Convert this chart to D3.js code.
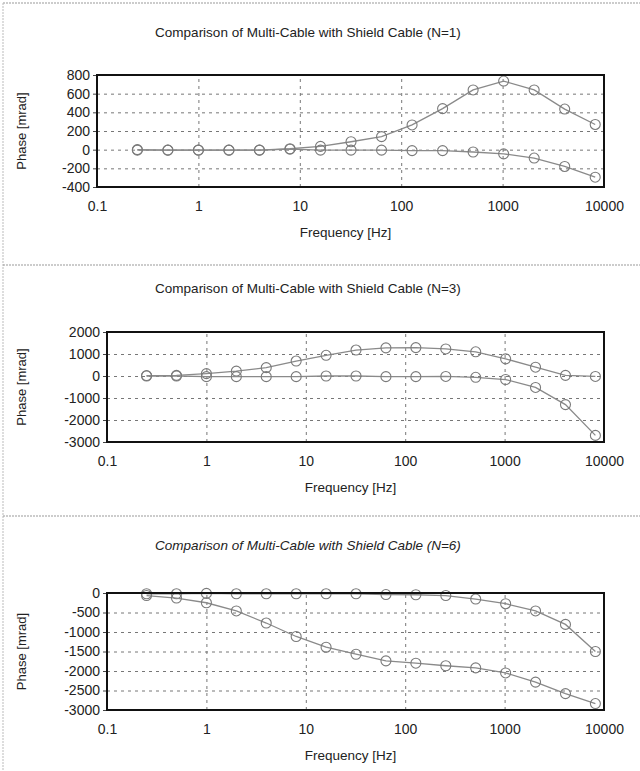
<!DOCTYPE html>
<html>
<head>
<meta charset="utf-8">
<script src="https://cdn.jsdelivr.net/npm/d3@7"></script>
<style>
body { margin: 0; background: #fff; }
text { font-family: "Liberation Sans", Arial, sans-serif; fill: #222; }
</style>
</head>
<body>
<svg id="chart" width="640" height="771"></svg>
<script>
// frequencies [Hz] of the measured points
var freqs = [0.25, 0.5, 1, 2, 4, 8, 16, 32, 64, 128, 256, 512, 1024, 2048, 4096, 8192];
var xTicks = [0.1, 1, 10, 100, 1000, 10000];

// phase [mrad], N=1
var n1Multi  = [0, -5, -5, -5, -5, 10, 35, 85, 140, 265, 440, 640, 735, 640, 435, 270];
var n1Shield = [-5, -5, -5, -5, -5, 5, -5, -5, -5, -10, -10, -25, -45, -90, -180, -295];
// phase [mrad], N=3
var n3Multi  = [20, 30, 110, 220, 380, 680, 940, 1180, 1280, 1290, 1230, 1100, 780, 400, 30, -20];
var n3Shield = [0, 0, -30, -30, -30, -30, 0, 0, -30, -30, -20, -60, -160, -520, -1300, -2700];
// phase [mrad], N=6
var n6Multi  = [-20, -20, -10, -20, -20, -20, -20, -20, -40, -45, -65, -155, -275, -460, -805, -1500];
var n6Shield = [-65, -130, -250, -460, -770, -1115, -1390, -1570, -1740, -1800, -1865, -1920, -2050, -2285, -2580, -2835];

var titles = [
    "Comparison of Multi-Cable with Shield Cable (N=1)",
    "Comparison of Multi-Cable with Shield Cable (N=3)",
    "Comparison of Multi-Cable with Shield Cable (N=6)"
];
var yDomains = [[-400, 800], [-3000, 2000], [-3000, 0]];
var yTicks = [
    [-400, -200, 0, 200, 400, 600, 800],
    [-3000, -2000, -1000, 0, 1000, 2000],
    [-3000, -2500, -2000, -1500, -1000, -500, 0]
];

var panels = [
    {left: 97, right: 604, top: 75, bottom: 187, titleY: 37, italic: false, series: [n1Multi, n1Shield]},
    {left: 107, right: 604, top: 332, bottom: 442, titleY: 293, italic: false, series: [n3Multi, n3Shield]},
    {left: 107, right: 604, top: 593, bottom: 710, titleY: 550, italic: true, series: [n6Multi, n6Shield]}
];

var svg = d3.select("#chart");

// page frame and separators
svg.append("line").attr("x1", 3).attr("x2", 640).attr("y1", 3).attr("y2", 3)
    .attr("stroke", "#999").attr("stroke-dasharray", "2,1");
svg.append("line").attr("x1", 3).attr("x2", 3).attr("y1", 3).attr("y2", 771)
    .attr("stroke", "#bbb").attr("stroke-dasharray", "2,1");
[265, 516].forEach(function(y) {
    svg.append("line").attr("x1", 3).attr("x2", 640).attr("y1", y).attr("y2", y)
        .attr("stroke", "#999").attr("stroke-dasharray", "2,1");
});

var xFormat = function(d) { return d < 1 ? "0.1" : String(d); };
var yFormat = function(d) { return String(d); };

panels.forEach(function(p, i) {
    var width = p.right - p.left,
        height = p.bottom - p.top;

    var x = d3.scaleLog().domain([0.1, 10000]).range([0, width]);
    var y = d3.scaleLinear().domain(yDomains[i]).range([height, 0]);

    var g = svg.append("g").attr("transform", "translate(" + p.left + "," + p.top + ")");

    // title
    svg.append("text")
        .attr("x", 308)
        .attr("y", p.titleY)
        .attr("text-anchor", "middle")
        .style("font-size", "13.5px")
        .style("font-style", p.italic ? "italic" : "normal")
        .text(titles[i]);

    // grid
    g.append("g")
        .call(d3.axisLeft(y).tickValues(yTicks[i]).tickSize(-width).tickFormat(""))
        .call(function(a) { a.select(".domain").remove(); })
        .selectAll("line").attr("stroke", "#777").attr("stroke-dasharray", "3,4");

    g.append("g")
        .attr("transform", "translate(0," + height + ")")
        .call(d3.axisBottom(x).tickValues(xTicks).tickSize(-height).tickFormat(""))
        .call(function(a) { a.select(".domain").remove(); })
        .selectAll("line").attr("stroke", "#777").attr("stroke-dasharray", "3,4");

    // y axis
    var yAxis = g.append("g")
        .call(d3.axisLeft(y).tickValues(yTicks[i]).tickSize(4).tickPadding(3).tickFormat(yFormat));
    yAxis.select(".domain").remove();
    yAxis.selectAll("line").attr("stroke", "#444");
    yAxis.selectAll("text").style("font-size", "14px").attr("fill", "#222");

    // x axis labels
    var xAxis = g.append("g")
        .attr("transform", "translate(0," + height + ")")
        .call(d3.axisBottom(x).tickValues(xTicks).tickSize(0).tickPadding(14).tickFormat(xFormat));
    xAxis.select(".domain").remove();
    xAxis.selectAll("text").style("font-size", "14px").attr("fill", "#222");

    // series
    var line = d3.line()
        .x(function(d, j) { return x(freqs[j]); })
        .y(function(d) { return y(d); });

    p.series.forEach(function(vals) {
        g.append("path")
            .datum(vals)
            .attr("fill", "none")
            .attr("stroke", "#8a8a8a")
            .attr("stroke-width", 1.3)
            .attr("d", line);

        g.selectAll(null)
            .data(vals)
            .enter().append("circle")
            .attr("cx", function(d, j) { return x(freqs[j]); })
            .attr("cy", function(d) { return y(d); })
            .attr("r", 5)
            .attr("fill", "none")
            .attr("stroke", "#7a7a7a")
            .attr("stroke-width", 1.1);
    });

    // frame
    g.append("rect")
        .attr("width", width)
        .attr("height", height)
        .attr("fill", "none")
        .attr("stroke", "#111")
        .attr("stroke-width", 2);

    // axis titles
    g.append("text")
        .attr("x", width / 2 - 5)
        .attr("y", height + 50)
        .attr("text-anchor", "middle")
        .style("font-size", "13.5px")
        .text("Frequency [Hz]");

    svg.append("text")
        .attr("transform", "translate(26," + (p.top + height / 2) + ") rotate(-90)")
        .attr("text-anchor", "middle")
        .style("font-size", "13px")
        .text("Phase [mrad]");
});
</script>
</body>
</html>
